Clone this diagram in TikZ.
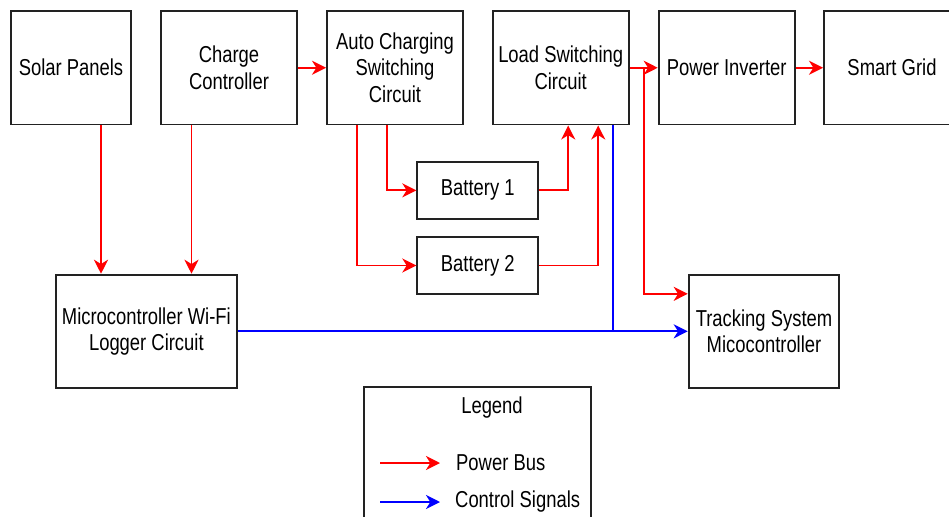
\documentclass[tikz,border=0pt]{standalone}
\usepackage{fontspec}
\setmainfont[FakeStretch=0.8]{Liberation Sans}
\usetikzlibrary{arrows.meta,calc}
\definecolor{frame}{RGB}{34,34,34}
\definecolor{powerred}{RGB}{255,0,0}
\definecolor{ctrlblue}{RGB}{0,0,255}
\tikzset{
  block/.style={draw=frame,line width=1.1pt,fill=white,align=center,inner sep=1pt,
    font=\fontsize{13.1}{14.9}\selectfont},
  pbus/.style={draw=powerred,line width=1pt,-{Stealth[length=8pt,width=8pt,inset=2.5pt]}},
  csig/.style={draw=ctrlblue,line width=1pt,-{Stealth[length=8pt,width=8pt,inset=2.5pt]}},
  legtext/.style={font=\fontsize{13.1}{14.9}\selectfont}
}

\begin{document}
\begin{tikzpicture}
        \clip (0,0) rectangle (18.98,10.32);
        \fill[white] (0,0) rectangle (18.98,10.32);
        % top row
        \node[block,minimum width=2.4cm,minimum height=2.27cm] (solar) at (1.42,8.965) {Solar Panels};
        \node[block,minimum width=2.72cm,minimum height=2.27cm] (charge) at (4.58,8.965) {Charge\\Controller};
        \node[block,minimum width=2.72cm,minimum height=2.27cm] (auto) at (7.9,8.965) {Auto Charging\\Switching\\Circuit};
        \node[block,minimum width=2.72cm,minimum height=2.27cm] (load) at (11.214,8.965) {Load Switching\\Circuit};
        \node[block,minimum width=2.72cm,minimum height=2.27cm] (inv) at (14.534,8.965) {Power Inverter};
        \node[block,minimum width=2.72cm,minimum height=2.27cm] (grid) at (17.84,8.965) {Smart Grid};
        % batteries
        \node[block,minimum width=2.42cm,minimum height=1.134cm] (batt1) at (9.556,6.513) {Battery 1};
        \node[block,minimum width=2.42cm,minimum height=1.134cm] (batt2) at (9.556,5.01) {Battery 2};
        % bottom row
        \node[block,minimum width=3.614cm,minimum height=2.266cm] (micro) at (2.927,3.693) {Microcontroller Wi-Fi\\Logger Circuit};
        \node[block,minimum width=3.012cm,minimum height=2.266cm] (track) at (15.28,3.693) {Tracking System\\Micocontroller};
        \coordinate (split) at ($(load.east)!0.5!(inv.west)$);

        \draw[pbus] ([xshift=0.6cm]solar.south) -- ([xshift=0.6cm]solar.south |- micro.north);
        \draw[pbus] ([xshift=-0.75cm]charge.south) -- ([xshift=-0.75cm]charge.south |- micro.north);
        \draw[pbus] (charge.east) -- (auto.west);
        \draw[pbus] ([xshift=-0.16cm]auto.south) |- (batt1.west);
        \draw[pbus] ([xshift=-0.76cm]auto.south) |- (batt2.west);
        \draw[pbus] (batt1.east) -| ([xshift=0.15cm]load.south);
        \draw[pbus] (batt2.east) -| ([xshift=0.75cm]load.south);
        \draw[pbus] (load.east) -- (inv.west);
        \draw[pbus] (split) |- ([yshift=0.75cm]track.west);
        \draw[pbus] (inv.east) -- (grid.west);
        \draw[csig] (micro.east) -- (track.west);
        \draw[csig,-] ([xshift=1.05cm]load.south) -- ([xshift=1.05cm]load.south |- track.west);

        % legend
        \draw[frame,line width=1.1pt] (7.28,2.574) rectangle (11.814,-0.4);
        \node[legtext] (legtitle) at (9.84,2.17) {Legend};
        \coordinate (pa) at (7.6,1.06);
        \coordinate (pb) at (8.8,1.06);
        \coordinate (ca) at (7.6,0.28);
        \coordinate (cb) at (8.8,0.28);
        \draw[pbus] (pa) -- (pb);
        \draw[csig] (ca) -- (cb);
        \node[legtext,anchor=west] (legpower) at (9.0,1.06) {Power Bus};
        \node[legtext,anchor=west] (legctrl) at (8.98,0.28) {Control Signals};
      \end{tikzpicture}
\end{document}
